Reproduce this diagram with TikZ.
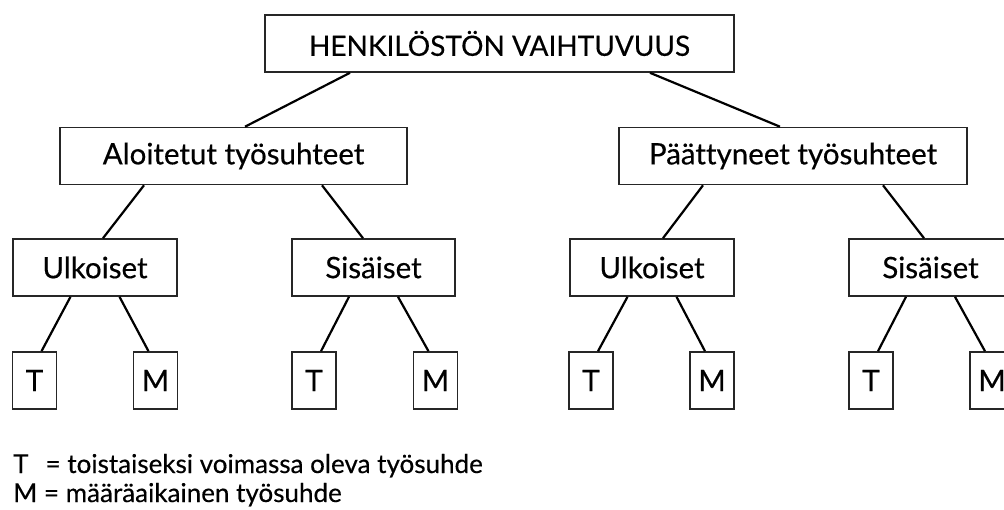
\documentclass[tikz,border=0pt]{standalone}
\usepackage{fontspec}
\setmainfont[Ligatures=NoCommon,FakeBold=0.4]{Lato}
\usetikzlibrary{calc}
\begin{document}
\begin{tikzpicture}[x=1pt,y=-1pt,
  box/.style={draw=black!85,line width=1.6pt,inner sep=0pt,minimum height=57pt,font=\fontsize{29.5}{33}\selectfont},
  leaf/.style={box,minimum width=44pt},
  conn/.style={line width=2.2pt}]
\useasboundingbox (0,0) rectangle (1004,509);
\node[box,minimum width=469pt,font=\fontsize{28}{32}\selectfont] (top) at (499.5,43.5) {HENKILÖSTÖN VAIHTUVUUS};
\node[box,minimum width=347pt] (alo) at (233.5,156) {Aloitetut työsuhteet};
\node[box,minimum width=348pt] (paa) at (793,156) {Päättyneet työsuhteet};
\node[box,minimum width=164pt] (ul1) at (95,267.5) {Ulkoiset};
\node[box,minimum width=163pt] (si1) at (373.5,267.5) {Sisäiset};
\node[box,minimum width=164pt] (ul2) at (652,267.5) {Ulkoiset};
\node[box,minimum width=163pt] (si2) at (930.5,267.5) {Sisäiset};
\node[leaf] (t1) at (34.5,380.5) {T};
\node[leaf] (m1) at (155.5,380.5) {M};
\node[leaf] (t2) at (314,380.5) {T};
\node[leaf] (m2) at (435.5,380.5) {M};
\node[leaf] (t3) at (591,380.5) {T};
\node[leaf] (m3) at (712,380.5) {M};
\node[leaf] (t4) at (871,380.5) {T};
\node[leaf] (m4) at (992,380.5) {M};
\draw[conn] ([xshift=-149.5pt]top.south) -- ([xshift=11.5pt]alo.north);
\draw[conn] ([xshift=150.5pt]top.south) -- ([xshift=-13pt]paa.north);
\draw[conn] ([xshift=-89.5pt]alo.south) -- ([xshift=8pt]ul1.north);
\draw[conn] ([xshift=88.5pt]alo.south) -- ([xshift=-10.5pt]si1.north);
\draw[conn] ([xshift=-90pt]paa.south) -- ([xshift=11pt]ul2.north);
\draw[conn] ([xshift=90pt]paa.south) -- ([xshift=-6.5pt]si2.north);
\foreach \p/\a/\b in {ul1/t1/m1,si1/t2/m2,ul2/t3/m3,si2/t4/m4}{
  \draw[conn] ([xshift=-24.5pt]\p.south) -- ([xshift=7pt]\a.north);
  \draw[conn] ([xshift=24.5pt]\p.south) -- ([xshift=-7pt]\b.north);
}
\node[anchor=base west,inner sep=0pt,font=\fontsize{26}{29}\selectfont] (leg1) at (13,473) {T\hspace{0.4em} = toistaiseksi voimassa oleva työsuhde};
\node[anchor=base west,inner sep=0pt,font=\fontsize{26}{29}\selectfont] (leg2) at (13,502) {M = määräaikainen työsuhde};
\end{tikzpicture}
\end{document}
